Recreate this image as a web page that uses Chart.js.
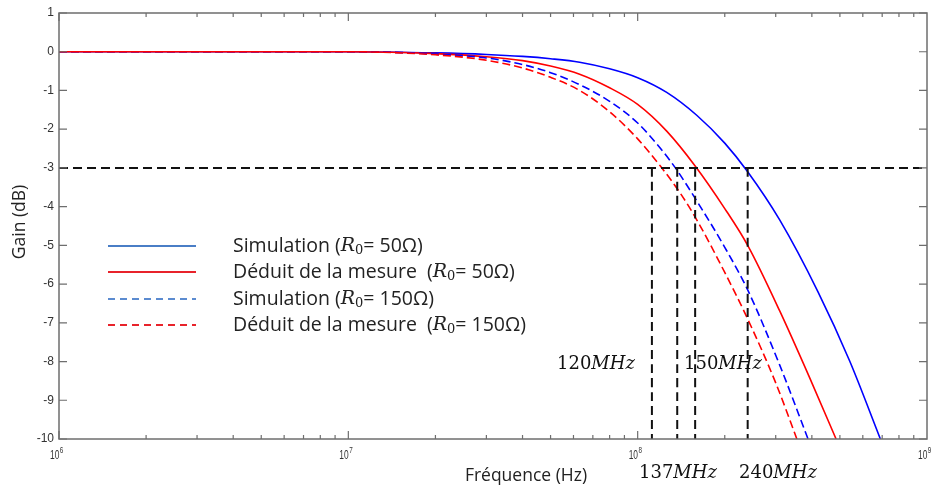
<!DOCTYPE html>
<html>
<head>
<meta charset="utf-8">
<script src="https://cdn.jsdelivr.net/npm/chart.js@4.4.0/dist/chart.umd.min.js"></script>
<style>
body { margin: 0; background: #fff; }
#wrap { width: 938px; height: 492px; position: relative; }
</style>
</head>
<body>
<div id="wrap"><canvas id="myChart"></canvas></div>
<script>
// frequencies (Hz) and gains (dB)
var freqSim50 = [1e6, 1e7, 2e7, 3e7, 4e7, 5e7, 6.3e7, 8e7, 1e8, 1.26e8, 1.6e8, 2e8, 2.4e8, 3.1e8, 4.2e8, 5.4e8, 6.9e8];
var gainSim50 = [0, 0, -0.03, -0.07, -0.12, -0.18, -0.27, -0.44, -0.67, -1.05, -1.64, -2.36, -3.1, -4.35, -6.2, -7.98, -10];

var freqMes50 = [1e6, 1e7, 2e7, 3e7, 4e7, 5e7, 6.3e7, 8e7, 1e8, 1.26e8, 1.58e8, 2e8, 2.4e8, 3.1e8, 4e8, 4.85e8];
var gainMes50 = [0, 0, -0.05, -0.13, -0.23, -0.37, -0.58, -0.93, -1.36, -2.05, -2.95, -4.05, -5.0, -6.7, -8.55, -10];

var freqSim150 = [1e6, 1e7, 2e7, 3e7, 4e7, 5e7, 6.3e7, 8e7, 1e8, 1.2e8, 1.35e8, 1.6e8, 2e8, 2.4e8, 3.1e8, 3.88e8];
var gainSim150 = [0, 0, -0.06, -0.16, -0.33, -0.54, -0.85, -1.28, -1.84, -2.5, -3.0, -3.85, -5.05, -6.15, -8.1, -10];

var freqMes150 = [1e6, 1e7, 2e7, 3e7, 4e7, 5e7, 6.3e7, 8e7, 1e8, 1.2e8, 1.4e8, 1.6e8, 2e8, 2.4e8, 3e8, 3.55e8];
var gainMes150 = [0, 0, -0.08, -0.22, -0.42, -0.66, -1.0, -1.55, -2.25, -2.96, -3.64, -4.34, -5.7, -6.9, -8.55, -10];

var seriesNames = ['Simulation ', 'Déduit de la mesure  ', 'Simulation ', 'Déduit de la mesure  '];
var seriesR0 = ['50Ω', '50Ω', '150Ω', '150Ω'];

// -3 dB level and the cutoff frequencies marked on the plot
var cutLevel = -3;
var cutFreqs = [1.12e8, 1.37e8, 1.58e8, 2.40e8];
var cutTexts = ['120', '137', '150', '240'];

var yTicks = [1, 0, -1, -2, -3, -4, -5, -6, -7, -8, -9, -10];
var xDecades = [6, 7, 8, 9];

function pts(fs, gs) {
    return fs.map(function(f, i) { return { x: f, y: gs[i] }; });
}

var blue = 'rgb(0, 0, 255)';
var red = 'rgb(255, 0, 0)';
var blackDash = [9, 5];

var datasets = [
    { label: 'cut', data: [{ x: 1e6, y: cutLevel }, { x: 1e9, y: cutLevel }], borderColor: '#111', borderWidth: 2, borderDash: blackDash, order: 0 }
];
cutFreqs.forEach(function(f) {
    datasets.push({ label: 'cut', data: [{ x: f, y: cutLevel }, { x: f, y: -10 }], borderColor: '#111', borderWidth: 2, borderDash: blackDash, order: 0 });
});
datasets.push(
    { label: 'Simulation 50', data: pts(freqSim50, gainSim50), borderColor: blue, borderWidth: 1.6, order: 4 },
    { label: 'Mesure 50', data: pts(freqMes50, gainMes50), borderColor: red, borderWidth: 1.6, order: 3 },
    { label: 'Simulation 150', data: pts(freqSim150, gainSim150), borderColor: blue, borderWidth: 1.6, borderDash: [8, 4], order: 2 },
    { label: 'Mesure 150', data: pts(freqMes150, gainMes150), borderColor: red, borderWidth: 1.6, borderDash: [8, 4], order: 1 }
);

function drawRuns(ctx, x, y, runs) {
    runs.forEach(function(r) {
        ctx.font = r.font;
        ctx.fillText(r.t, x, y + (r.dy || 0));
        x += ctx.measureText(r.t).width;
    });
}

var frameAndText = {
    id: 'frameAndText',
    afterDatasetsDraw: function(chart) {
        var ctx = chart.ctx, a = chart.chartArea;
        var xs = chart.scales.x, ys = chart.scales.y;
        ctx.save();

        // frame
        ctx.strokeStyle = '#6e6e6e';
        ctx.lineWidth = 1.5;
        ctx.strokeRect(a.left, a.top, a.right - a.left, a.bottom - a.top);

        // inward ticks
        ctx.lineWidth = 1.2;
        ctx.beginPath();
        yTicks.forEach(function(v) {
            var py = ys.getPixelForValue(v);
            ctx.moveTo(a.left, py); ctx.lineTo(a.left + 8, py);
            ctx.moveTo(a.right, py); ctx.lineTo(a.right - 8, py);
        });
        for (var d = 6; d < 9; d++) {
            for (var m = 1; m <= 9; m++) {
                var px = xs.getPixelForValue(m * Math.pow(10, d));
                var len = (m === 1) ? 8 : 4;
                ctx.moveTo(px, a.bottom); ctx.lineTo(px, a.bottom - len);
                ctx.moveTo(px, a.top); ctx.lineTo(px, a.top + len);
            }
        }
        ctx.stroke();

        // tick labels
        ctx.fillStyle = '#333';
        ctx.font = '12px "Liberation Sans", Arial, sans-serif';
        ctx.textAlign = 'right';
        ctx.textBaseline = 'middle';
        yTicks.forEach(function(v) {
            ctx.fillText(String(v), a.left - 5, ys.getPixelForValue(v));
        });
        ctx.textAlign = 'left';
        ctx.textBaseline = 'alphabetic';
        xDecades.forEach(function(d) {
            var cx = xs.getPixelForValue(Math.pow(10, d));
            ctx.save();
            ctx.translate(cx - 9, a.bottom + 20);
            ctx.scale(0.7, 1);
            ctx.font = '12px "Liberation Sans", Arial, sans-serif';
            ctx.fillText('10', 0, 0);
            ctx.font = '9px "Liberation Sans", Arial, sans-serif';
            ctx.fillText(String(d), 14, -6);
            ctx.restore();
        });

        // axis titles
        ctx.fillStyle = '#222';
        ctx.textAlign = 'center';
        ctx.textBaseline = 'middle';
        ctx.font = '17.5px "Open Sans", sans-serif';
        ctx.fillText('Fréquence (Hz)', 526, 476);
        ctx.save();
        ctx.translate(20, 222);
        ctx.rotate(-Math.PI / 2);
        ctx.fillText('Gain (dB)', 0, 0);
        ctx.restore();

        // cutoff labels
        ctx.textAlign = 'left';
        ctx.textBaseline = 'alphabetic';
        ctx.fillStyle = '#111';
        var num = '18px "DejaVu Serif", serif', ital = 'italic 18px "DejaVu Serif", serif';
        var labelPos = [[557, 369], [639, 478], [684, 369], [739, 478]];
        cutTexts.forEach(function(t, i) {
            drawRuns(ctx, labelPos[i][0], labelPos[i][1], [{ t: t, font: num }, { t: 'MHz', font: ital }]);
        });

        // legend
        var rows = [246, 272, 299, 325];
        var lc = ['#4a7ec6', '#e8232b', '#5b8bd0', '#e8232b'];
        rows.forEach(function(ry, i) {
            ctx.strokeStyle = lc[i];
            ctx.lineWidth = 2;
            ctx.setLineDash(i < 2 ? [] : [7, 5]);
            ctx.beginPath();
            ctx.moveTo(108, ry); ctx.lineTo(196, ry);
            ctx.stroke();
            ctx.setLineDash([]);
            ctx.fillStyle = '#222';
            ctx.textBaseline = 'middle';
            var sans = '19.5px "Open Sans", sans-serif';
            drawRuns(ctx, 233, ry, [
                { t: seriesNames[i] + '(', font: sans },
                { t: 'R', font: 'italic 19px "DejaVu Serif", serif' },
                { t: '0', font: '13px "DejaVu Serif", serif', dy: 5 },
                { t: '= ' + seriesR0[i] + ')', font: sans }
            ]);
        });
        ctx.restore();
    }
};

var ctx = document.getElementById('myChart').getContext('2d');
var chart = new Chart(ctx, {
    type: 'line',
    data: { datasets: datasets },
    options: {
        responsive: true,
        maintainAspectRatio: false,
        animation: false,
        layout: { padding: { left: 59, right: 11, top: 13, bottom: 53 } },
        elements: {
            point: { radius: 0 },
            line: { cubicInterpolationMode: 'monotone', fill: false }
        },
        plugins: { legend: { display: false }, tooltip: { enabled: false } },
        scales: {
            x: { type: 'logarithmic', min: 1e6, max: 1e9, display: false },
            y: { min: -10, max: 1, display: false }
        }
    },
    plugins: [frameAndText]
});
</script>
</body>
</html>
